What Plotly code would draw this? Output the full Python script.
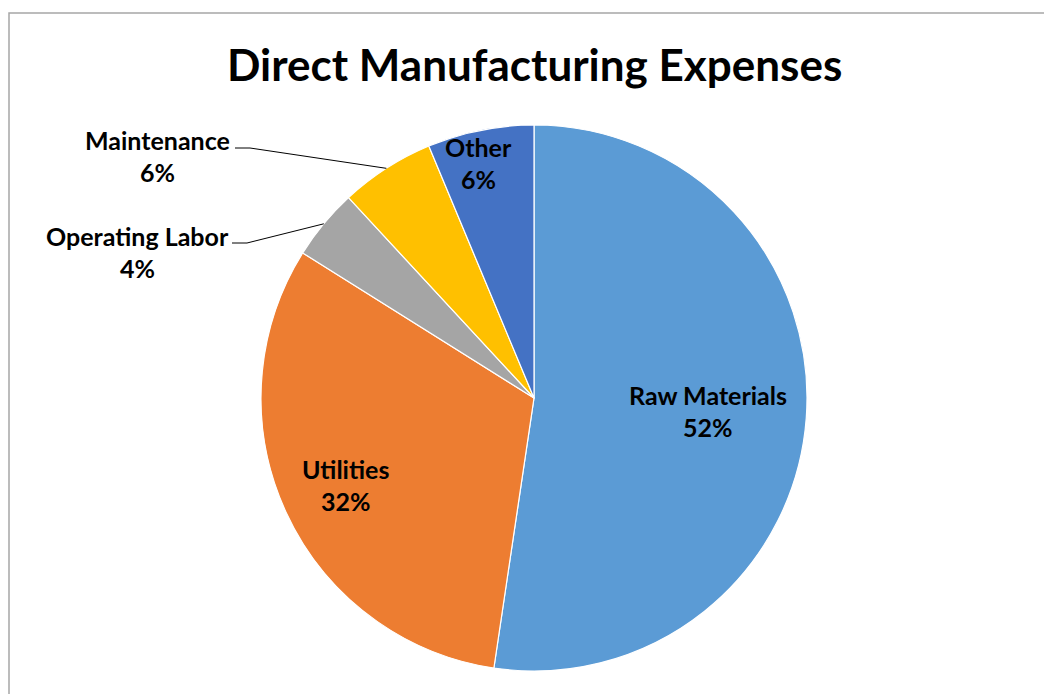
import math
import plotly.graph_objects as go

# ---- data ----
categories = ["Raw Materials", "Utilities", "Operating Labor", "Maintenance", "Other"]
values = [52.4, 31.6, 4.2, 5.6, 6.3]
colors = ["#5B9BD5", "#ED7D31", "#A5A5A5", "#FFC000", "#4472C4"]
title_text = "Direct Manufacturing Expenses"

# ---- geometry (pixels) ----
W, H = 1044, 694
CX, CY, R = 534, 398, 273
FONT = "Lato"

def px2paper(x, y):
    return x / W, 1 - y / H

total = sum(values)
cum = 0
mids = []
for v in values:
    mids.append((cum + v / 2) / total * 2 * math.pi)
    cum += v

def polar(angle, r):
    return CX + r * math.sin(angle), CY - r * math.cos(angle)

fig = go.Figure()
fig.add_trace(go.Pie(
    labels=categories, values=values, sort=False, direction="clockwise", rotation=0,
    marker=dict(colors=colors, line=dict(color="white", width=1.2)),
    textinfo="none", hoverinfo="label+percent", showlegend=False,
    domain=dict(x=[(CX - R) / W, (CX + R) / W], y=[1 - (CY + R) / H, 1 - (CY - R) / H]),
))

annotations = []
shapes = []

def add_label(i, x, y):
    pct = f"{round(values[i] / total * 100)}%"
    for txt, dy in ((categories[i], -16), (pct, 16)):
        px, py = px2paper(x, y + dy)
        annotations.append(dict(x=px, y=py, xref="paper", yref="paper", text=f"<b>{txt}</b>",
                                showarrow=False, xanchor="center", yanchor="middle",
                                font=dict(family=FONT, size=25, color="black")))

# inside labels: radius factor and small pixel offsets
inside = {0: (0.64, 0, 0), 1: (0.76, 0, 0), 4: (0.87, -9, -2)}
for i, (rf, ox, oy) in inside.items():
    x, y = polar(mids[i], rf * R)
    add_label(i, x + ox, y + oy)

# outside labels with leader lines
outside = {3: (157, 156, 235, 148), 2: (137, 252, 232, 243)}
for i, (lx, ly, lend, lyy) in outside.items():
    add_label(i, lx, ly)
    ex, ey = polar(mids[i], R)
    pts = [(lend, lyy), (lend + 15, lyy), (ex, ey)]
    path = ""
    for k, (x, y) in enumerate(pts):
        px, py = px2paper(x, y)
        path += ("M" if k == 0 else " L") + f"{px},{py}"
    shapes.append(dict(type="path", path=path, xref="paper", yref="paper",
                       line=dict(color="black", width=1)))

# chart border
bx0, by1 = px2paper(9, 13)
shapes.append(dict(type="rect", xref="paper", yref="paper", x0=bx0, y0=-0.05, x1=1.05, y1=by1,
                   line=dict(color="#A6A6A6", width=1.5), fillcolor="rgba(0,0,0,0)", layer="below"))

tx, ty = px2paper(534, 64)
annotations.append(dict(x=tx, y=ty, xref="paper", yref="paper", text=f"<b>{title_text}</b>",
                        showarrow=False, xanchor="center", yanchor="middle",
                        font=dict(family=FONT, size=44, color="black")))

fig.update_layout(
    width=W, height=H, margin=dict(l=0, r=0, t=0, b=0),
    paper_bgcolor="white", plot_bgcolor="white",
    annotations=annotations, shapes=shapes,
)
fig.write_html("out.html")
